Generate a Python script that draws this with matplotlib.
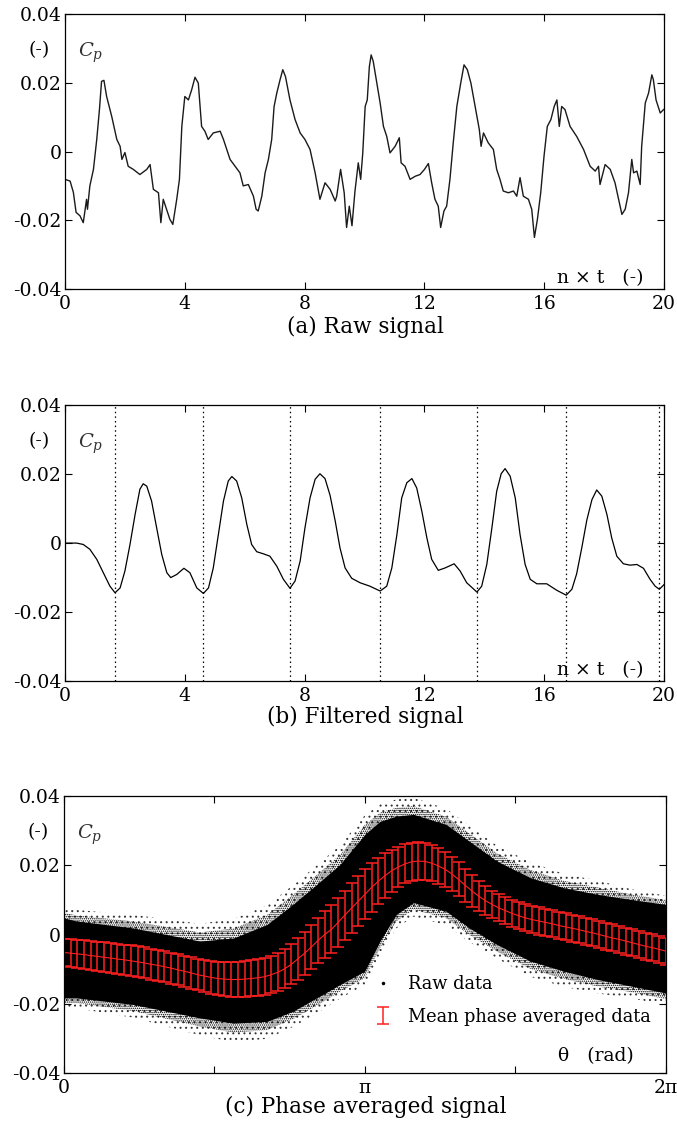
import numpy as np
import matplotlib
matplotlib.use("Agg")
import matplotlib.pyplot as plt
from matplotlib.lines import Line2D

plt.rcParams["font.family"] = ["DejaVu Serif"]
plt.rcParams["mathtext.fontset"] = "dejavuserif"
plt.rcParams["hatch.linewidth"] = 0.7

# ---- (a) raw signal, Cp in units of 1e-3
raw_t = [0.0, 0.17, 0.28, 0.37, 0.5, 0.61, 0.72, 0.75, 0.83, 0.95, 1.06, 1.15, 1.22, 1.3, 1.39,
         1.56, 1.73, 1.84, 1.9, 2.0, 2.11, 2.28, 2.5, 2.73, 2.84, 2.95, 3.12, 3.2, 3.28, 3.39,
         3.5, 3.6, 3.73, 3.82, 3.9, 4.0, 4.12, 4.23, 4.34, 4.45, 4.56, 4.67, 4.78, 4.95, 5.18,
         5.29, 5.51, 5.68, 5.84, 5.95, 6.12, 6.29, 6.38, 6.45, 6.57, 6.68, 6.79, 6.9, 6.98,
         7.07, 7.18, 7.27, 7.36, 7.51, 7.68, 7.85, 8.01, 8.18, 8.35, 8.51, 8.68, 8.85, 9.02,
         9.07, 9.2, 9.32, 9.4, 9.49, 9.58, 9.68, 9.79, 9.87, 9.94, 10.02, 10.09, 10.16, 10.22,
         10.29, 10.41, 10.52, 10.63, 10.74, 10.85, 11.02, 11.16, 11.22, 11.35, 11.52, 11.69,
         11.85, 12.0, 12.13, 12.24, 12.35, 12.46, 12.54, 12.65, 12.74, 12.85, 12.96, 13.08,
         13.21, 13.32, 13.43, 13.55, 13.69, 13.83, 13.89, 13.97, 14.13, 14.3, 14.41, 14.52,
         14.63, 14.8, 14.97, 15.08, 15.19, 15.3, 15.47, 15.58, 15.67, 15.77, 15.88, 15.99,
         16.1, 16.22, 16.33, 16.42, 16.5, 16.58, 16.69, 16.86, 17.08, 17.31, 17.53, 17.7,
         17.81, 17.86, 18.03, 18.2, 18.36, 18.48, 18.59, 18.7, 18.81, 18.92, 18.98, 19.09,
         19.2, 19.25, 19.37, 19.48, 19.59, 19.64, 19.73, 19.87, 19.98]
raw_cp = [-8.1, -8.6, -11.9, -17.7, -18.7, -20.7, -13.9, -16.8, -10.0, -5.2, 3.5, 12.2, 20.4, 20.7,
          16.0, 10.2, 3.5, 1.5, -2.3, -0.3, -4.3, -5.2, -6.7, -5.2, -3.8, -11.0, -12.0, -20.7,
          -13.9, -16.8, -19.7, -21.2, -13.9, -8.1, 7.3, 16.0, 15.0, 18.0, 21.6, 19.9, 7.3, 5.9,
          3.5, 5.4, 5.9, 3.5, -2.3, -4.3, -6.2, -10.0, -9.6, -13.0, -16.8, -17.3, -13.0, -6.2,
          -2.3, 3.5, 13.1, 17.0, 20.9, 23.8, 21.8, 15.0, 9.3, 5.4, 3.5, 0.6, -6.2, -13.9, -9.1,
          -11.0, -14.4, -13.0, -5.2, -12.0, -22.1, -15.9, -21.6, -11.5, -3.3, -8.1, -0.4, 13.1,
          15.0, 24.7, 28.1, 26.2, 19.9, 14.1, 7.3, 4.4, -0.4, 1.5, 4.0, -3.3, -4.3, -8.1, -7.2,
          -6.7, -5.2, -3.5, -9.1, -13.9, -15.9, -22.1, -17.3, -15.9, -8.1, 2.5, 13.1, 19.9,
          25.2, 23.8, 19.9, 13.1, 6.4, 1.5, 5.4, 2.5, 0.6, -5.2, -8.1, -11.5, -12.0, -11.5,
          -13.0, -7.6, -13.0, -13.9, -16.8, -25.0, -19.7, -12.0, -1.4, 7.3, 9.3, 13.1, 15.0,
          7.3, 13.1, 12.2, 7.3, 4.4, 0.6, -4.3, -5.7, -4.3, -9.6, -3.8, -5.2, -9.1, -13.9,
          -18.3, -16.8, -12.0, -2.3, -6.2, -5.7, -9.6, 1.5, 14.1, 17.0, 22.3, 20.9, 15.0, 11.2,
          12.2]

# ---- (b) filtered signal
filt_t = [0.0, 0.39, 0.61, 0.83, 1.06, 1.28, 1.5, 1.67, 1.84, 2.0, 2.17, 2.34, 2.5, 2.61, 2.73,
          2.89, 3.06, 3.23, 3.4, 3.53, 3.73, 3.97, 4.17, 4.4, 4.62, 4.79, 4.95, 5.12, 5.29, 5.45,
          5.57, 5.73, 5.9, 6.07, 6.23, 6.4, 6.62, 6.84, 7.07, 7.29, 7.51, 7.68, 7.85, 8.01, 8.18,
          8.35, 8.51, 8.68, 8.85, 9.02, 9.18, 9.35, 9.57, 9.85, 10.18, 10.52, 10.74, 10.91,
          11.08, 11.24, 11.41, 11.58, 11.74, 11.91, 12.08, 12.24, 12.46, 12.69, 12.99, 13.19,
          13.41, 13.75, 13.91, 14.08, 14.25, 14.41, 14.56, 14.69, 14.86, 15.03, 15.19, 15.36,
          15.53, 15.75, 16.08, 16.42, 16.73, 16.92, 17.08, 17.25, 17.42, 17.59, 17.75, 17.92,
          18.09, 18.25, 18.42, 18.64, 18.86, 19.09, 19.31, 19.53, 19.7, 19.84, 20.0]
filt_cp = [0.0, 0.0, -0.4, -1.8, -4.7, -8.6, -12.5, -14.4, -13.0, -8.1, -0.4, 8.3, 15.6, 17.2,
           16.5, 12.2, 4.4, -3.3, -8.6, -10.0, -9.1, -7.3, -8.6, -13.0, -14.6, -13.0, -7.2, 2.5,
           12.2, 18.0, 19.3, 18.0, 13.1, 5.4, -0.4, -2.5, -3.1, -3.8, -6.7, -10.5, -13.1, -11.0,
           -5.2, 4.4, 13.1, 18.5, 20.1, 18.7, 13.8, 6.4, -1.4, -7.2, -10.2, -11.5, -12.5, -13.9,
           -12.5, -7.2, 2.5, 13.1, 17.5, 18.7, 16.0, 9.3, 1.5, -4.7, -7.9, -7.2, -6.0, -8.1,
           -11.5, -14.2, -12.5, -6.2, 4.4, 15.0, 20.1, 21.6, 19.4, 13.1, 2.5, -6.2, -10.5,
           -11.8, -11.8, -13.7, -15.1, -13.4, -8.9, -1.4, 6.7, 12.6, 15.4, 13.6, 8.3, 1.5, -3.8,
           -6.0, -6.4, -6.2, -7.3, -10.5, -12.5, -13.4, -12.0]
cycle_marks = [1.67, 4.62, 7.51, 10.52, 13.75, 16.73, 19.84]

# ---- (c) phase averaged, 91 bins of 4 degrees
bin_deg = list(range(0, 361, 4))
mean_cp = [-5.2, -5.4, -5.6, -5.8, -6.1, -6.3, -6.6, -6.8, -7.1, -7.3, -7.6, -7.9, -8.2, -8.6,
           -8.9, -9.3, -9.7, -10.2, -10.6, -11.1, -11.6, -12.0, -12.4, -12.7, -12.9, -13.0,
           -13.0, -12.9, -12.7, -12.5, -12.2, -11.6, -10.9, -9.9, -8.6, -7.0, -5.4, -3.6, -1.7,
           0.0, 1.5, 3.5, 5.6, 7.6, 9.6, 11.6, 13.6, 15.4, 17.0, 18.4, 19.5, 20.4, 21.0, 21.2,
           21.1, 20.6, 19.8, 18.8, 17.5, 15.9, 14.2, 12.6, 11.1, 9.8, 8.7, 7.7, 6.9, 6.1, 5.4,
           4.8, 4.3, 3.9, 3.5, 3.1, 2.6, 2.2, 1.8, 1.4, 0.9, 0.5, 0.0, -0.5, -1.0, -1.4, -1.9,
           -2.4, -2.9, -3.4, -3.8, -4.3, -4.8]
std_cp = [4.0, 4.0, 4.1, 4.1, 4.2, 4.2, 4.3, 4.3, 4.4, 4.4, 4.5, 4.5, 4.5, 4.5, 4.5, 4.5, 4.5,
          4.5, 4.5, 4.5, 4.5, 4.6, 4.7, 4.8, 4.9, 5.0, 5.1, 5.2, 5.2, 5.3, 5.3, 5.4, 5.5, 5.6,
          5.8, 6.0, 6.2, 6.4, 6.6, 6.8, 6.9, 7.0, 7.1, 7.2, 7.2, 7.2, 7.0, 6.7, 6.4, 6.1, 5.8,
          5.6, 5.5, 5.4, 5.3, 5.2, 5.1, 5.0, 4.9, 4.9, 4.8, 4.6, 4.4, 4.2, 4.0, 3.9, 3.9, 3.9,
          3.9, 3.9, 3.9, 3.9, 3.9, 3.9, 3.9, 3.9, 3.9, 3.9, 3.9, 3.9, 3.9, 3.9, 3.9, 3.9, 3.9,
          3.9, 3.9, 3.9, 3.9, 3.9, 3.9]
# envelope of the dense raw-data cloud (top / bottom edges)
top_th = [0.0, 0.13, 0.72, 1.42, 1.77, 2.12, 2.39, 2.64, 2.88, 3.14, 3.30, 3.47, 3.65, 3.99,
          4.23, 4.52, 4.87, 5.22, 5.57, 5.92, 6.283]
core_hi = [4.8, 3.9, 1.9, -1.9, -1.0, 2.9, 8.7, 14.5, 20.2, 28.9, 32.7, 34.2, 34.7, 31.8,
           27.0, 21.2, 16.4, 13.5, 11.6, 10.1, 8.7]
core_lo = [-18.3, -18.3, -20.2, -24.1, -25.6, -25.1, -22.2, -18.3, -14.5, -10.6, -1.9, 5.8,
           9.2, 6.7, 1.9, -2.9, -7.7, -10.6, -13.0, -14.9, -16.9]
spread_hi = [3.0, 3.2, 3.8, 5.0, 5.5, 5.5, 5.5, 5.5, 5.5, 5.5, 5.0, 4.8, 4.8, 4.5, 4.5, 4.5,
             4.5, 4.0, 4.0, 3.0, 2.5]
spread_lo = [3.0, 3.0, 3.8, 5.0, 5.5, 5.0, 4.5, 4.5, 4.0, 4.0, 4.0, 4.0, 4.0, 4.0, 4.0, 4.0,
             4.5, 4.5, 4.0, 3.5, 3.5]

s = 1e-3
fig = plt.figure(figsize=(6.77, 11.37), dpi=100)
ax1 = fig.add_axes([0.096, 0.7458, 0.885, 0.2419])
ax2 = fig.add_axes([0.096, 0.4010, 0.885, 0.2427])
ax3 = fig.add_axes([0.0945, 0.0563, 0.889, 0.2436])

yt = [-0.04, -0.02, 0, 0.02, 0.04]
ytl = ["-0.04", "-0.02", "0", "0.02", "0.04"]
for ax in (ax1, ax2, ax3):
    ax.set_ylim(-0.04, 0.04)
    ax.set_yticks(yt)
    ax.set_yticklabels(ytl)
    ax.tick_params(direction="in", top=True, right=True, length=5, width=0.8,
                   labelsize=13.5)
    ax.tick_params(axis="y", pad=2.5)
    ax.tick_params(axis="x", pad=4)
    for sp in ax.spines.values():
        sp.set_linewidth(0.9)
    ax.text(-0.043, 0.869, "(-)", transform=ax.transAxes, ha="center", va="center", fontsize=13.5)
    ax.text(0.022, 0.86, "$C_p$", transform=ax.transAxes, ha="left", va="center", fontsize=14,
            color="#333333")

for ax in (ax1, ax2):
    ax.set_xlim(0, 20)
    ax.set_xticks([0, 4, 8, 12, 16, 20])
    ax.text(0.965, 0.04, "n × t   (-)", transform=ax.transAxes, ha="right", va="center",
            fontsize=13.5)

ax1.plot(raw_t, np.array(raw_cp) * s, color="#1a1a1a", lw=1.0)

ax2.plot(filt_t, np.array(filt_cp) * s, color="black", lw=0.9)
for xm in cycle_marks:
    ax2.axvline(xm, color="black", lw=0.9, ls=(0, (1.2, 2.5)))

theta = np.deg2rad(bin_deg)
tt = np.array(top_th)
hi = np.array(core_hi)
lo = np.array(core_lo)
sh = np.array(spread_hi)
sl = np.array(spread_lo)
# sparse outer fringe, denser inner fringe, solid core
ax3.fill_between(tt, (lo - sl) * s, (hi + sh) * s, facecolor="none",
                 edgecolor="#333333", hatch="...", linewidth=0)
ax3.fill_between(tt, (lo - 0.5 * sl) * s, (hi + 0.5 * sh) * s, facecolor="none",
                 edgecolor="black", hatch="........", linewidth=0)
ax3.fill_between(tt, lo * s, hi * s, color="black", lw=0)
ax3.errorbar(theta, np.array(mean_cp) * s, yerr=np.array(std_cp) * s, fmt="none",
             ecolor="#ff2020", elinewidth=1.1, capsize=4.6, capthick=1.1,
             label="Mean phase averaged data")
ax3.plot(theta, np.array(mean_cp) * s, color="#ff2020", lw=0.8)
ax3.set_xlim(0, 2 * np.pi)
ax3.set_xticks([0, np.pi / 2, np.pi, 1.5 * np.pi, 2 * np.pi])
ax3.set_xticklabels(["0", "", "π", "", "2π"])
ax3.text(0.947, 0.061, "θ   (rad)", transform=ax3.transAxes, ha="right", va="center",
         fontsize=13.5)

dot = Line2D([], [], ls="none", marker=".", color="black", markersize=3, label="Raw data")
eb = ax3.get_legend_handles_labels()[0][0]
ax3.legend([dot, eb], ["Raw data", "Mean phase averaged data"], loc="lower left",
           bbox_to_anchor=(0.5, 0.145), frameon=False, fontsize=12.8, handlelength=1.2,
           handletextpad=0.8, labelspacing=0.8, borderaxespad=0)

fig.text(0.54, 0.7125, "(a) Raw signal", ha="center", va="center", fontsize=15.5)
fig.text(0.54, 0.3695, "(b) Filtered signal", ha="center", va="center", fontsize=15.5)
fig.text(0.54, 0.0262, "(c) Phase averaged signal", ha="center", va="center", fontsize=15.5)

fig.savefig("out.png", dpi=100)
